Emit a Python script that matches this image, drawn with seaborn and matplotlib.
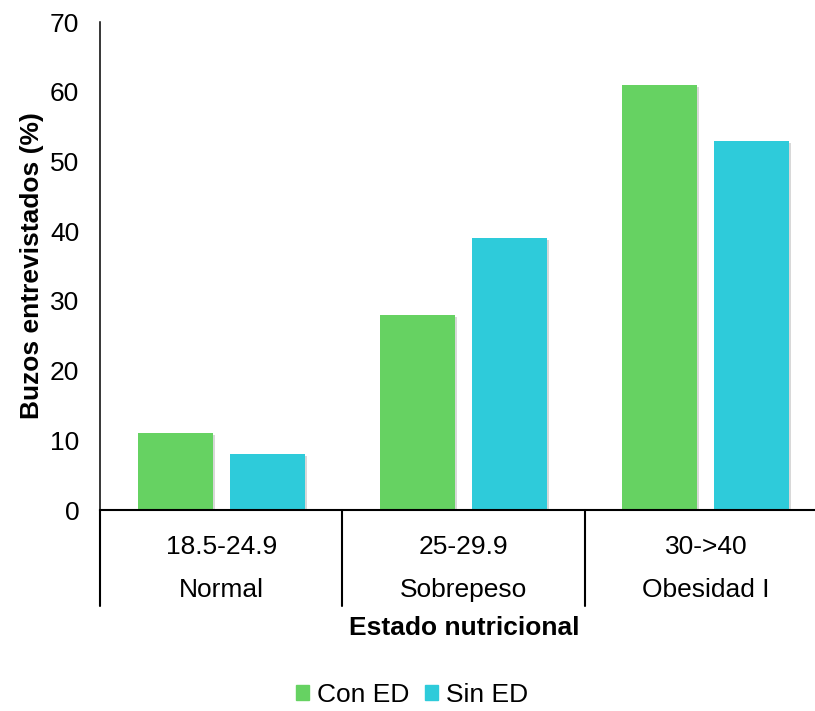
import matplotlib
matplotlib.use('Agg')
import matplotlib.pyplot as plt
import matplotlib.patheffects as pe
import matplotlib.transforms as mtransforms
import seaborn as sns
import pandas as pd

# datos
rangos = ["18.5-24.9", "25-29.9", "30->40"]
estados = ["Normal", "Sobrepeso", "Obesidad I"]
con_ed = [11, 28, 61]
sin_ed = [8, 39, 53]
grupos = ["Con ED", "Sin ED"]
colores = ["#66D262", "#2ECBDA"]

df = pd.DataFrame({
    "estado": estados * 2,
    "grupo": [grupos[0]] * 3 + [grupos[1]] * 3,
    "valor": con_ed + sin_ed,
})

sns.set_style("white")
plt.rcParams['font.family'] = ['Liberation Sans', 'DejaVu Sans']
plt.rcParams['text.color'] = 'black'
plt.rcParams['axes.labelcolor'] = 'black'
plt.rcParams['ytick.color'] = 'black'

fig = plt.figure(figsize=(8.15, 7.11), dpi=100)
ax = fig.add_axes([100 / 815, 201 / 711, 727 / 815, 488 / 711])

sns.barplot(data=df, x="estado", y="valor", hue="grupo", order=estados,
            hue_order=grupos, palette=colores, width=0.76, gap=0.185,
            saturation=1, ax=ax, legend=False, linewidth=0)

for p in ax.patches:
    p.set_path_effects([pe.SimplePatchShadow(offset=(1.5, -1.5), shadow_rgbFace='gray', alpha=0.3),
                        pe.Normal()])

ax.set_xlim(-0.5, 2.5)
ax.set_ylim(0, 70)
ax.set_yticks(range(0, 71, 10))
ax.tick_params(axis='y', length=0, pad=15, labelsize=19, colors='black')
ax.tick_params(axis='x', length=0, labelbottom=False)
ax.set_xlabel("")
ax.set_ylabel("Buzos entrevistados (%)", fontsize=19, fontweight='bold', labelpad=4)

for s in ["top", "right"]:
    ax.spines[s].set_visible(False)
ax.spines["left"].set_linewidth(1.1)
ax.spines["left"].set_color("black")
ax.spines["bottom"].set_linewidth(1.5)
ax.spines["bottom"].set_color("black")

# etiquetas de dos niveles
trans = mtransforms.blended_transform_factory(ax.transData, ax.transAxes)
for i, (r, e) in enumerate(zip(rangos, estados)):
    ax.text(i, -0.076, r, transform=trans, ha='center', va='center', fontsize=19)
    ax.text(i, -0.164, e, transform=trans, ha='center', va='center', fontsize=19)
for xb in [-0.5, 0.5, 1.5, 2.5]:
    ax.plot([xb, xb], [0, -0.197], transform=trans, color='black', lw=1.5, clip_on=False)

fig.text(464 / 815, 1 - 628 / 711, "Estado nutricional", ha='center', va='center',
         fontsize=19, fontweight='bold')

handles = [plt.Rectangle((0, 0), 1, 1, color=c) for c in colores]
fig.legend(handles, grupos, loc='center', bbox_to_anchor=(412 / 815, 1 - 695 / 711),
           ncol=2, frameon=False, fontsize=19, handlelength=0.5, handleheight=0.5,
           handletextpad=0.3, columnspacing=0.6)

plt.savefig("out.png", dpi=100)
plt.close()
